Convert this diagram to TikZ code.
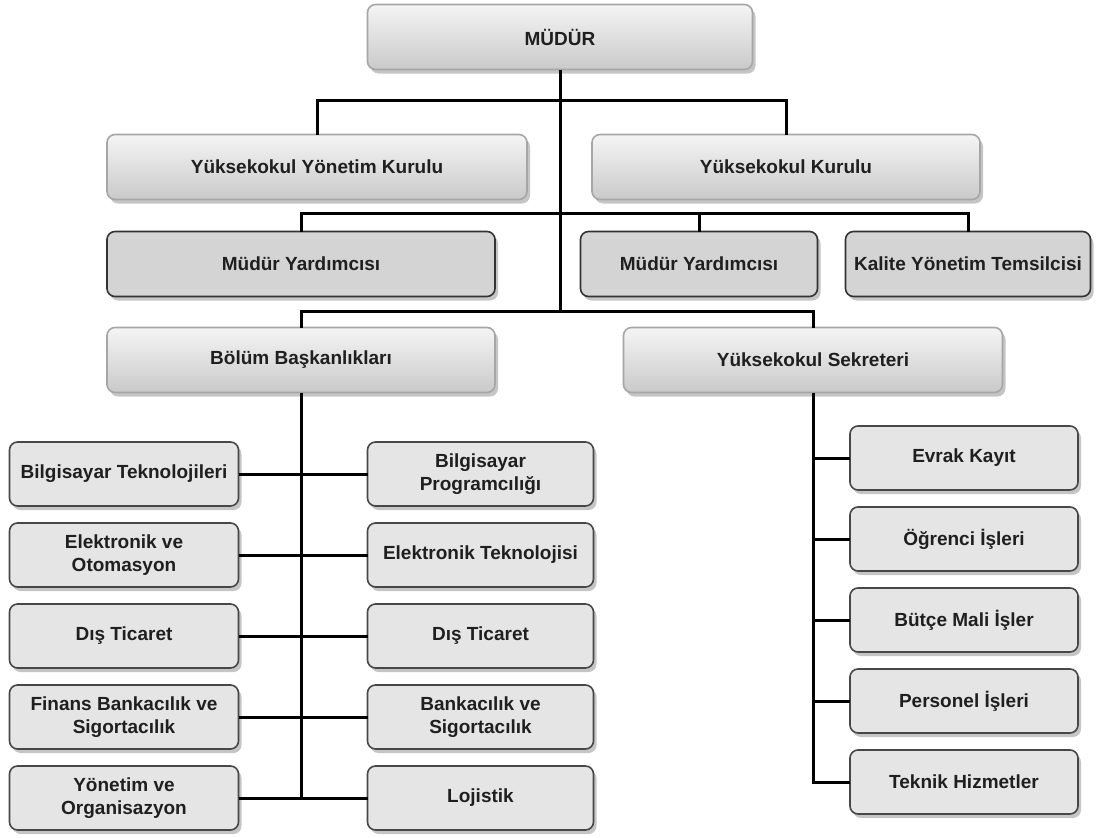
\documentclass[tikz,border=0pt]{standalone}
\usepackage{fontspec}
\setmainfont{Liberation Sans}
\usetikzlibrary{positioning,shadows}

\tikzset{
  base/.style={rounded corners=8pt, inner sep=0pt, outer sep=0pt, align=center,
    text=black!88, font=\bfseries\fontsize{19}{22.5}\selectfont, line width=1.6pt,
    drop shadow={shadow xshift=3pt, shadow yshift=-4pt, fill=black!45, opacity=.5}},
  upper/.style={base, draw=black!35, top color=black!4, bottom color=black!21, minimum height=65pt},
  middle/.style={base, draw=black!80, fill=black!17, minimum height=65pt},
  leaf/.style={base, draw=black!72, fill=black!10, minimum height=64pt},
  link/.style={line width=3pt, black}
}

\begin{document}
\begin{tikzpicture}[x=1pt, y=-1pt]
  \useasboundingbox (0,0) rectangle (1096,838);

  % top levels
  \node (MD)  [upper, minimum width=385pt] at (560,37)  {MÜDÜR};
  \node (YYK) [upper, minimum width=420pt] at (317,167) {Yüksekokul Yönetim Kurulu};
  \node (YK)  [upper, minimum width=388pt] at (786,167) {Yüksekokul Kurulu};
  \node (MY1) [middle, minimum width=388pt] at (301,264) {Müdür Yardımcısı};
  \node (MY2) [middle, minimum width=237pt] at (699,264) {Müdür Yardımcısı};
  \node (KYT) [middle, minimum width=245pt] at (968,264) {Kalite Yönetim Temsilcisi};
  \node (BB)  [upper, minimum width=388pt] at (301,360) {Bölüm Başkanlıkları};
  \node (YS)  [upper, minimum width=379pt] at (813,360) {Yüksekokul Sekreteri};

  % departments
  \node (L1) [leaf, minimum width=229pt] at (124,474) {Bilgisayar Teknolojileri};
  \node (L2) [leaf, minimum width=229pt, below=17pt of L1] {Elektronik ve\\Otomasyon};
  \node (L3) [leaf, minimum width=229pt, below=17pt of L2] {Dış Ticaret};
  \node (L4) [leaf, minimum width=229pt, below=17pt of L3] {Finans Bankacılık ve\\Sigortacılık};
  \node (L5) [leaf, minimum width=229pt, below=17pt of L4] {Yönetim ve\\Organisazyon};
  \node (R1) [leaf, minimum width=226pt, right=129pt of L1] {Bilgisayar\\Programcılığı};
  \node (R2) [leaf, minimum width=226pt, right=129pt of L2] {Elektronik Teknolojisi};
  \node (R3) [leaf, minimum width=226pt, right=129pt of L3] {Dış Ticaret};
  \node (R4) [leaf, minimum width=226pt, right=129pt of L4] {Bankacılık ve\\Sigortacılık};
  \node (R5) [leaf, minimum width=226pt, right=129pt of L5] {Lojistik};

  % secretary units
  \node (S1) [leaf, minimum width=228pt] at (964,458) {Evrak Kayıt};
  \node (S2) [leaf, minimum width=228pt, below=17pt of S1] {Öğrenci İşleri};
  \node (S3) [leaf, minimum width=228pt, below=17pt of S2] {Bütçe Mali İşler};
  \node (S4) [leaf, minimum width=228pt, below=17pt of S3] {Personel İşleri};
  \node (S5) [leaf, minimum width=228pt, below=17pt of S4] {Teknik Hizmetler};

  \coordinate (J1) at (560,100);
  \coordinate (J2) at (560,213);
  \coordinate (J3) at (560,311);

  \draw[link] (MD.south) -- (J3);
  \draw[link] (YYK.north) |- (J1) -| (YK.north);
  \draw[link] (MY1.north) |- (J2) -| (KYT.north);
  \draw[link] (MY2.north) -- (MY2.north |- J2);
  \draw[link] (BB.north) |- (J3) -| (YS.north);
  \draw[link] (BB.south) -- (BB.south |- L5.east);
  \foreach \i in {1,...,5}
    \draw[link] (L\i.east) -- (R\i.west);
  \draw[link] (YS.south) |- (S5.west);
  \foreach \i in {1,...,4}
    \draw[link] (YS.south |- S\i.west) -- (S\i.west);
\end{tikzpicture}
\end{document}
